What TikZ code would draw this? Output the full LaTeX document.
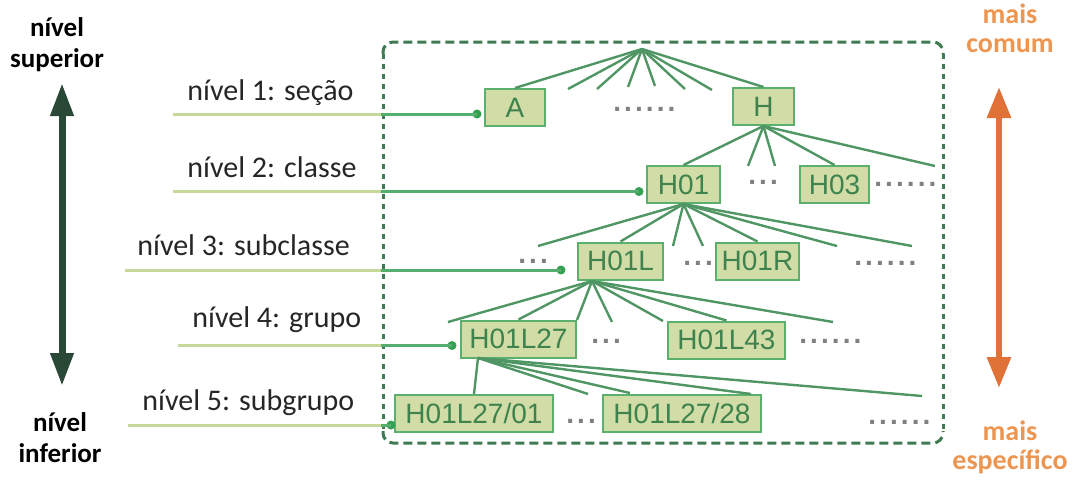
\documentclass[tikz,border=0pt]{standalone}
\usepackage{fontspec}
\setmainfont{Carlito}
\newfontfamily\boxfont{Liberation Sans}
\newfontfamily\dotfont[LetterSpace=11]{Liberation Sans}
\usetikzlibrary{arrows.meta}

\definecolor{boxfill}{RGB}{210,220,166}
\definecolor{boxline}{RGB}{92,176,110}
\definecolor{boxtext}{RGB}{62,130,78}
\definecolor{treeline}{RGB}{80,150,100}
\definecolor{framec}{RGB}{62,122,82}
\definecolor{leafdot}{RGB}{52,160,82}
\definecolor{outerline}{RGB}{200,216,152}
\definecolor{innerline}{RGB}{86,174,110}
\definecolor{darkarrow}{RGB}{42,72,54}
\definecolor{orangetext}{RGB}{236,150,82}
\definecolor{orangearrow}{RGB}{224,114,56}
\definecolor{dotgray}{RGB}{125,130,125}

\begin{document}
\begin{tikzpicture}[x=0.5pt,y=-0.5pt,
  cpc/.style={draw=boxline,line width=1pt,fill=boxfill,text=boxtext,
    font=\boxfont\fontsize{14}{16}\selectfont,minimum height=18.5pt,inner sep=0pt},
  branch/.style={treeline,line width=1.2pt},
  more/.style={text=dotgray,font=\dotfont\bfseries\fontsize{14}{16}\selectfont,inner sep=0pt,anchor=base west},
  lvtext/.style={text=black!85,font=\fontsize{15}{18}\selectfont,inner sep=0pt,anchor=base west},
  lvline/.style={outerline,line width=1.5pt},
  lvlink/.style={innerline,line width=1.5pt},
  lvdot/.style={circle,fill=leafdot,inner sep=0pt,minimum size=4.5pt},
  frame/.style={framec,line width=1.5pt},
  side/.style={font=\bfseries\fontsize{13.5}{15.5}\selectfont,align=center,inner sep=0pt,anchor=base},
  sideo/.style={text=orangetext,font=\bfseries\fontsize{14}{14.5}\selectfont,align=center,inner sep=0pt,anchor=base},
]
\useasboundingbox (0,0) rectangle (1073,482);

% frame around the tree
\draw[frame,dash pattern=on 4.5pt off 2.5pt,rounded corners=5pt] (383,54) -- (383,42) -- (943,42) -- (943,54);
\draw[frame,dash pattern=on 2.5pt off 2.5pt] (383,54) -- (383,431) (943,54) -- (943,431);
\draw[frame,dash pattern=on 4.5pt off 2.5pt,rounded corners=5pt] (383,431) -- (383,443) -- (943,443) -- (943,431);

% left scale
\node[side] (sup) at (57,68) {nível\\superior};
\node[side] (inf) at (60,462) {nível\\inferior};
\coordinate (up1) at (62,83);
\coordinate (dn1) at (62,386);
\draw[darkarrow,line width=3.5pt,{Triangle[width=11pt,length=16.5pt]}-{Triangle[width=11pt,length=16.5pt]}] (up1) -- (dn1);

% right scale
\node[sideo] (com) at (1010,53) {mais\\comum};
\node[sideo] (esp) at (1010,469) {mais\\específico};
\coordinate (up2) at (999,87);
\coordinate (dn2) at (999,388);
\draw[orangearrow,line width=3pt,{Triangle[width=11.5pt,length=15.5pt]}-{Triangle[width=11.5pt,length=15.5pt]}] (up2) -- (dn2);

% boxes
\node[cpc,minimum width=30pt] (A) at (515,107.5) {A};
\node[cpc,minimum width=30.5pt] (H) at (763.5,106.5) {H};
\node[cpc,minimum width=36.5pt] (H01) at (683.5,184.5) {H01};
\node[cpc,minimum width=34.5pt] (H03) at (834.5,184.5) {H03};
\node[cpc,minimum width=42.5pt] (H01L) at (620.5,261) {H01L};
\node[cpc,minimum width=41.5pt] (H01R) at (757.5,261) {H01R};
\node[cpc,minimum width=57.5pt] (H01L27) at (518.5,339) {H01L27};
\node[cpc,minimum width=58.5pt] (H01L43) at (726.5,340) {H01L43};
\node[cpc,minimum width=79pt] (H01L27-01) at (474,413.5) {H01L27/01};
\node[cpc,minimum width=79pt] (H01L27-28) at (682,413.5) {H01L27/28};

% the rest of each level
\node[more] (m1) at (613,111.5) {......};
\node[more] (m2) at (748,184.5) {...};
\node[more] (m3) at (874,186.5) {......};
\node[more] (m4) at (518,263.5) {...};
\node[more] (m5) at (683,265.5) {...};
\node[more] (m6) at (854,265.5) {......};
\node[more] (m7) at (591,343.5) {...};
\node[more] (m8) at (799,343.5) {......};
\node[more] (m9) at (566,423.5) {...};
\node[more] (m10) at (868,424.5) {......};

% branches
\coordinate (root) at (642,49);
\foreach \x/\y [count=\i] in {568/89,597/89,628/87,655/86,685/89,712/90}
  \coordinate (b1-\i) at (\x,\y);
\draw[branch] (root) -- (A.north) (root) -- (H.north);
\foreach \i in {1,...,6} \draw[branch] (root) -- (b1-\i);

\foreach \x/\y [count=\i] in {748/166,775/166,935/166}
  \coordinate (b2-\i) at (\x,\y);
\draw[branch] (H.south) -- (H01.north) (H.south) -- (H03.north);
\foreach \i in {1,...,3} \draw[branch] (H.south) -- (b2-\i);

\foreach \x/\y [count=\i] in {538/246,673/246,703/246,837/246,912/246}
  \coordinate (b3-\i) at (\x,\y);
\draw[branch] (H01.south) -- (H01L.north) (H01.south) -- (H01R.north);
\foreach \i in {1,...,5} \draw[branch] (H01.south) -- (b3-\i);

\coordinate (H01Lb) at (592,281);
\foreach \x/\y [count=\i] in {448/322,577/320,612/322,663/321,833/322}
  \coordinate (b4-\i) at (\x,\y);
\draw[branch] (H01Lb) -- (H01L27.north) (H01Lb) -- (H01L43.north);
\foreach \i in {1,...,5} \draw[branch] (H01Lb) -- (b4-\i);

\coordinate (H01L27b) at (478,358);
\foreach \x/\y [count=\i] in {588/394,630/393,751/394,922/396}
  \coordinate (b5-\i) at (\x,\y);
\draw[branch] (H01L27b) -- (H01L27-01.north);
\foreach \i in {1,...,4} \draw[branch] (H01L27b) -- (b5-\i);

% level labels
\node[lvtext] (lv1) at (187,100) {nível 1: seção};
\node[lvtext] (lv2) at (187,177) {nível 2: classe};
\node[lvtext] (lv3) at (137,255) {nível 3: subclasse};
\node[lvtext] (lv4) at (192,327) {nível 4: grupo};
\node[lvtext] (lv5) at (142,410) {nível 5: subgrupo};

\foreach \n/\xa/\y/\xd in {1/173/114/477,2/173/191.5/639,3/125/270/561,4/178/345.5/452,5/128/425/391}{
  \coordinate (s\n) at (\xa,\y);
  \coordinate (e\n) at (381,\y);
  \node[lvdot] (d\n) at (\xd,\y) {};
  \draw[lvline] (s\n) -- (e\n);
  \draw[lvlink] (e\n) -- (d\n.center);
}
\end{tikzpicture}
\end{document}
